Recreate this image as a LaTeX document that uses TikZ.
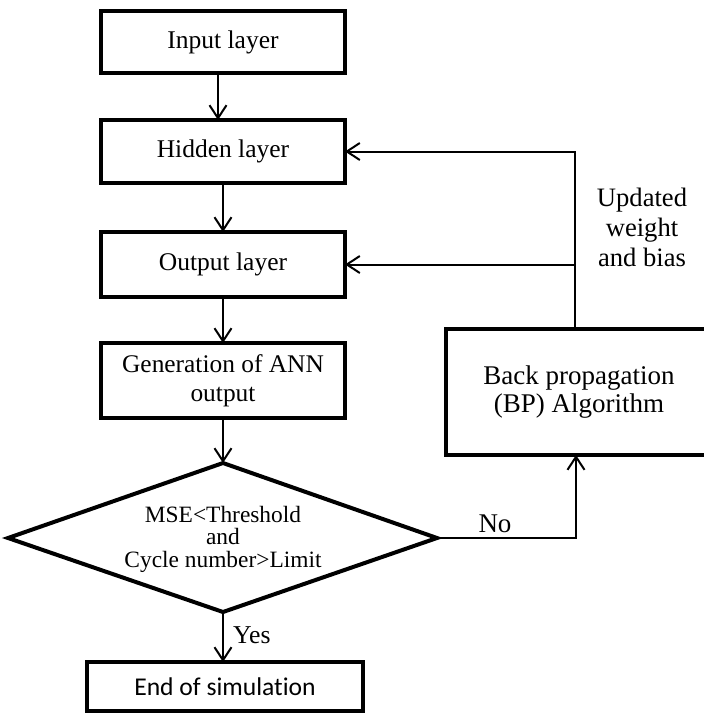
\documentclass[tikz,border=0pt]{standalone}
\usepackage{fontspec}
\setmainfont{Liberation Serif}
\newfontfamily\calib{Carlito}[Ligatures=NoCommon]
\usetikzlibrary{arrows.meta}
\begin{document}
\begin{tikzpicture}[x=1pt,y=-1pt,
  box/.style={draw, line width=4pt, rectangle, inner sep=0pt, outer sep=0pt, align=center},
  arr/.style={-{Straight Barb[length=13pt,width=17pt,line width=2pt]}, line width=2pt},
  lbl/.style={inner sep=0pt, align=center}]
\useasboundingbox (0,0) rectangle (704,713);
\node[box, minimum width=244pt, minimum height=62pt, font=\fontsize{25.5}{30}\selectfont] (input) at (223,42) {Input layer};
\node[box, minimum width=244pt, minimum height=63pt, font=\fontsize{25.5}{30}\selectfont] (hidden) at (223,151.5) {Hidden layer};
\node[box, minimum width=244pt, minimum height=65pt, font=\fontsize{25.5}{30}\selectfont] (output) at (223,264.5) {Output layer};
\node[box, minimum width=244pt, minimum height=75pt, font=\fontsize{25.4}{29}\selectfont] (gen) at (223,380.5) {Generation of ANN\\output};
% decision diamond
\coordinate (dtop) at (223,463);
\coordinate (dleft) at (8,538);
\coordinate (dright) at (437,538);
\coordinate (dbot) at (223,612);
\draw[line width=4pt, line join=miter] (dtop) -- (dright) -- (dbot) -- (dleft) -- cycle;
\node[lbl, font=\fontsize{23.4}{22.5}\selectfont] (dia) at (223,539) {MSE<Threshold\\and\\Cycle number>Limit};
\node[box, minimum width=276pt, minimum height=49pt, font=\calib\fontsize{25.6}{30}\selectfont] (end) at (225,686.5) {End of simulation};
\begin{scope}
\clip (0,0) rectangle (704,713);
\node[box, minimum width=266pt, minimum height=126pt, font=\fontsize{27}{28}\selectfont] (bp) at (579,392) {Back propagation\\(BP) Algorithm};
\end{scope}
\node[lbl, font=\fontsize{26.6}{30}\selectfont] (upd) at (642,227) {Updated\\weight\\and bias};
\node[lbl, font=\fontsize{27}{30}\selectfont] (no) at (495,524) {No};
\node[lbl, font=\fontsize{25.7}{30}\selectfont, anchor=west] (yes) at (233,635) {Yes};
\draw[arr] ([xshift=-5pt]input.south) -- ([xshift=-5pt]hidden.north);
\draw[arr] (hidden.south) -- (output.north);
\draw[arr] (output.south) -- (gen.north);
\draw[arr] (gen.south) -- (dtop);
\draw[arr] (dbot) -- (dbot |- end.north);
\draw[arr] ([xshift=-4pt]bp.north) |- (hidden.east);
\draw[arr] ([xshift=-4pt]bp.north |- output.east) -- (output.east);
\draw[arr] (dright) -| ([xshift=-3pt]bp.south);
\end{tikzpicture}
\end{document}
